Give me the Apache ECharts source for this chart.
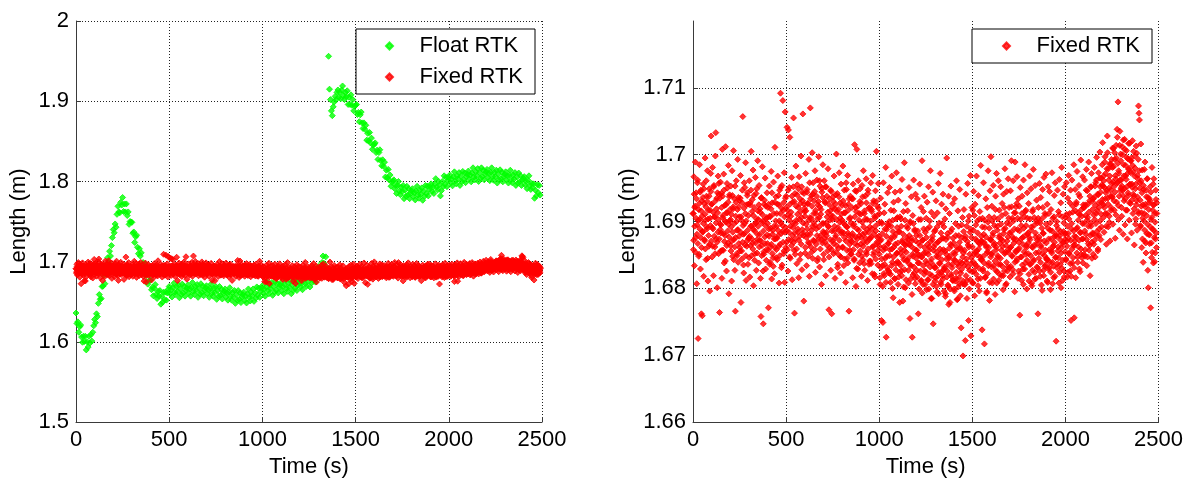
<!DOCTYPE html>
<html>
<head>
<meta charset="utf-8">
<script src="https://cdn.jsdelivr.net/npm/echarts@6/dist/echarts.min.js"></script>
<style>
html,body{margin:0;padding:0;background:#fff;}
#chart{width:1186px;height:483px;}
</style>
</head>
<body>
<div id="chart"></div>
<script>
// ---- Data ----
const xTicks = [0, 500, 1000, 1500, 2000, 2500];
const leftYTicks = [1.5, 1.6, 1.7, 1.8, 1.9, 2];
const rightYTicks = [1.66, 1.67, 1.68, 1.69, 1.70, 1.71, 1.72];
const seriesNames = ['Float RTK', 'Fixed RTK'];

// Fixed RTK length (m): pass A sampled every 2.5 s from 0 s
const fixedStartA = 0, fixedStep = 2.5;
const fixedRTK_A = [
1.6912,1.6858,1.6967,1.6834,1.6921,1.6989,1.6876,1.6943,1.6807,1.6895,1.6962,1.6725,1.6918,1.6851,1.6985,1.6903,1.6829,1.6947,1.6762,1.6931,
1.6759,1.6884,1.6956,1.6818,1.6927,1.6871,1.6995,1.6902,1.6843,1.6938,1.6889,1.6976,1.6811,1.6917,1.6863,1.6949,1.6796,1.6905,1.6972,1.7028,
1.6926,1.6847,1.6981,1.6889,1.6819,1.6954,1.6907,1.6862,1.6998,1.7033,1.6874,1.6935,1.6801,1.6913,1.6968,1.6852,1.6941,1.6764,1.6896,1.6959,
1.6883,1.6942,1.6815,1.7008,1.6906,1.6857,1.6971,1.6838,1.6924,1.6879,1.7012,1.6899,1.6826,1.6957,1.6913,1.6868,1.6984,1.6792,1.6937,1.6901,
1.6864,1.6953,1.6892,1.6811,1.6976,1.6848,1.6919,1.7006,1.6873,1.6934,1.6827,1.6766,1.6908,1.6961,1.6852,1.6887,1.6993,1.6839,1.6922,1.6878,
1.6931,1.6856,1.6969,1.6779,1.6902,1.6844,1.6947,1.7057,1.6881,1.6823,1.6958,1.6897,1.6865,1.6988,1.6812,1.6925,1.6871,1.6943,1.6836,1.6909,
1.6875,1.6961,1.6817,1.6928,1.6893,1.7005,1.6849,1.6915,1.6868,1.6977,1.6804,1.6939,1.6886,1.6852,1.6966,1.6898,1.6827,1.6949,1.6873,1.6991,
1.6893,1.6838,1.6954,1.6872,1.6919,1.6815,1.6758,1.6936,1.6864,1.6982,1.6901,1.6747,1.6851,1.6926,1.6877,1.6965,1.6829,1.6904,1.6858,1.6943,
1.6867,1.6921,1.6771,1.6889,1.6953,1.6836,1.6907,1.6862,1.6975,1.6814,1.6928,1.6881,1.6846,1.6959,1.6893,1.6822,1.7011,1.6874,1.6937,1.6858,
1.6912,1.6843,1.6968,1.6879,1.6925,1.6808,1.6947,1.6866,1.7092,1.6898,1.6831,1.6954,1.6885,1.7081,1.6917,1.6852,1.6973,1.6809,1.7064,1.6891,
1.6938,1.6869,1.7041,1.6917,1.6826,1.7037,1.6884,1.6951,1.7026,1.6845,1.6908,1.6872,1.6966,1.6813,1.6929,1.6891,1.7055,1.6857,1.6763,1.6942,
1.6874,1.6983,1.6902,1.6837,1.6955,1.6889,1.6921,1.6816,1.6967,1.6878,1.6934,1.6851,1.6998,1.6906,1.6828,1.6944,1.7061,1.6883,1.6781,1.6926,
1.6915,1.6853,1.6972,1.6896,1.6834,1.6948,1.6881,1.6927,1.6869,1.6993,1.6818,1.6906,1.7070,1.6862,1.6939,1.6887,1.7003,1.6845,1.6958,1.6899,
1.6931,1.6858,1.6976,1.6824,1.6912,1.6889,1.6962,1.6841,1.6925,1.6873,1.6997,1.6906,1.6832,1.6953,1.6879,1.6918,1.6806,1.6944,1.6868,1.6985,
1.6897,1.6843,1.6961,1.6875,1.6928,1.6819,1.6952,1.6884,1.6907,1.6856,1.6979,1.6892,1.6768,1.6934,1.6861,1.6916,1.6827,1.6945,1.6762,1.6903,
1.6871,1.6937,1.6852,1.6968,1.6893,1.6815,1.6926,1.6879,1.7001,1.6864,1.6942,1.6836,1.6918,1.6887,1.6973,1.6849,1.6905,1.6823,1.6956,1.6882,
1.6924,1.6861,1.6983,1.6898,1.6834,1.6947,1.6876,1.6913,1.6809,1.6958,1.6892,1.6845,1.6969,1.6883,1.6926,1.6766,1.6904,1.6857,1.6938,1.6872,
1.6851,1.6934,1.6878,1.6816,1.6956,1.6893,1.6842,1.7015,1.6867,1.6921,1.6803,1.6945,1.7008,1.6874,1.6829,1.6961,1.6887,1.6912,1.6838,1.6949,
1.6866,1.6927,1.6818,1.6954,1.6881,1.6843,1.6976,1.6869,1.6912,1.6827,1.6938,1.6875,1.6964,1.6851,1.6903,1.6812,1.6947,1.6884,1.6836,1.6921,
1.6892,1.6841,1.6958,1.6877,1.6915,1.6822,1.6969,1.6863,1.6931,1.6854,1.6908,1.6817,1.6946,1.6886,1.7005,1.6869,1.6923,1.6835,1.6957,1.6878,
1.6851,1.6912,1.6806,1.6935,1.6873,1.6752,1.6897,1.6834,1.6749,1.6958,1.6862,1.6819,1.6926,1.6845,1.6981,1.6727,1.6888,1.6831,1.6943,1.6867,
1.6894,1.6823,1.6951,1.6858,1.6809,1.6917,1.6876,1.6968,1.6839,1.6902,1.6786,1.6929,1.6862,1.6815,1.6944,1.6881,1.6837,1.6973,1.6853,1.6906,
1.6868,1.6932,1.6817,1.6885,1.6779,1.6946,1.6859,1.6904,1.6826,1.6963,1.6872,1.6781,1.6915,1.6843,1.6988,1.6866,1.6801,1.6927,1.6854,1.6893,
1.6842,1.6916,1.6873,1.6808,1.6951,1.6865,1.6755,1.6898,1.6834,1.6937,1.6871,1.6727,1.6909,1.6848,1.6962,1.6823,1.6886,1.6815,1.6941,1.6857,
1.6879,1.6827,1.6934,1.6851,1.6762,1.6903,1.6838,1.6956,1.6864,1.6811,1.6921,1.6847,1.6991,1.6872,1.6806,1.6915,1.6853,1.6938,1.6826,1.6884,
1.6841,1.6905,1.6798,1.6929,1.6866,1.6813,1.6952,1.6857,1.6892,1.6821,1.6976,1.6839,1.6914,1.6785,1.6873,1.6944,1.6747,1.6862,1.6908,1.6831,
1.6887,1.6816,1.6931,1.6848,1.6795,1.6913,1.6869,1.6957,1.6824,1.6898,1.6837,1.6972,1.6853,1.6806,1.6926,1.6875,1.6819,1.6941,1.6858,1.6892,
1.6832,1.6904,1.6788,1.6919,1.6851,1.6995,1.6826,1.6877,1.6803,1.6938,1.6845,1.6912,1.6779,1.6866,1.6953,1.6818,1.6889,1.6836,1.6927,1.6812,
1.6868,1.6799,1.6934,1.6842,1.6897,1.6815,1.6961,1.6857,1.6784,1.6916,1.6833,1.6879,1.6807,1.6948,1.6861,1.6823,1.6741,1.6895,1.6838,1.6906,
1.6699,1.6853,1.6918,1.6806,1.6874,1.6722,1.6941,1.6839,1.6893,1.6812,1.6957,1.6865,1.6752,1.6908,1.6827,1.6884,1.6969,1.6729,1.6846,1.6921,
1.6862,1.6917,1.6808,1.6945,1.6851,1.6789,1.6926,1.6874,1.6833,1.6968,1.6856,1.6901,1.6814,1.6939,1.6868,1.6796,1.6915,1.6847,1.6984,1.6871,
1.6843,1.6738,1.6905,1.6826,1.6958,1.6869,1.6717,1.6891,1.6817,1.6934,1.6862,1.6795,1.6921,1.6855,1.6976,1.6838,1.6907,1.6782,1.6946,1.6873,
1.6997,1.6851,1.6923,1.6808,1.6879,1.6954,1.6834,1.6906,1.6867,1.6791,1.6938,1.6858,1.6972,1.6825,1.6893,1.6846,1.6961,1.6812,1.6917,1.6879,
1.6836,1.6952,1.6874,1.6819,1.6927,1.6863,1.6798,1.6941,1.6888,1.6826,1.6979,1.6854,1.6912,1.6807,1.6945,1.6871,1.6832,1.6964,1.6858,1.6921,
1.6883,1.6817,1.6946,1.6862,1.6991,1.6849,1.6905,1.6828,1.6961,1.6874,1.6913,1.6795,1.6989,1.6856,1.6922,1.6841,1.6967,1.6888,1.6815,1.6934,
1.6869,1.6923,1.6760,1.6951,1.6847,1.6894,1.6812,1.6938,1.6876,1.6829,1.6962,1.6855,1.6907,1.6985,1.6838,1.6917,1.6864,1.6799,1.6943,1.6881,
1.6852,1.6927,1.6811,1.6968,1.6873,1.6836,1.6949,1.6892,1.6804,1.6915,1.6861,1.6978,1.6843,1.6906,1.6824,1.6954,1.6877,1.6815,1.6932,1.6866,
1.6898,1.6762,1.6921,1.6845,1.6957,1.6872,1.6818,1.6936,1.6861,1.6904,1.6797,1.6948,1.6883,1.6827,1.6966,1.6849,1.6912,1.6835,1.6971,1.6868,
1.6843,1.6926,1.6809,1.6952,1.6874,1.6831,1.6945,1.6887,1.6798,1.6918,1.6856,1.6973,1.6839,1.6905,1.6864,1.6816,1.6939,1.6878,1.6958,1.6847,
1.6721,1.6894,1.6831,1.6947,1.6862,1.6915,1.6808,1.6963,1.6879,1.6836,1.6928,1.6853,1.6981,1.6867,1.6812,1.6941,1.6885,1.6826,1.6952,1.6873,
1.6906,1.6844,1.6958,1.6871,1.6817,1.6935,1.6882,1.6969,1.6853,1.6912,1.6826,1.6947,1.6752,1.6889,1.6962,1.6838,1.6923,1.6864,1.6985,1.6756,
1.6871,1.6948,1.6816,1.6926,1.6889,1.6975,1.6847,1.6913,1.6862,1.6954,1.6829,1.6937,1.6883,1.6992,1.6851,1.6908,1.6874,1.6967,1.6838,1.6921,
1.6897,1.6962,1.6848,1.6925,1.6881,1.6978,1.6834,1.6946,1.6906,1.6867,1.6989,1.6857,1.6931,1.6819,1.6952,1.6893,1.6972,1.6845,1.6918,1.6881,
1.6934,1.6866,1.6981,1.6903,1.6847,1.6958,1.6912,1.6996,1.6878,1.6941,1.6859,1.6973,1.6921,1.6889,1.7004,1.6952,1.6873,1.6965,1.6928,1.6985,
1.7018,1.6925,1.6968,1.6884,1.6951,1.6997,1.6912,1.6943,1.6866,1.6979,1.7028,1.6935,1.6892,1.6962,1.6908,1.6986,1.6871,1.6947,1.6921,1.6993,
1.6938,1.6981,1.6896,1.7009,1.6952,1.6917,1.6993,1.6875,1.6964,1.7014,1.6929,1.7038,1.6958,1.7079,1.6903,1.6972,1.6887,1.7035,1.6946,1.6991,
1.6962,1.6908,1.7012,1.6947,1.6881,1.6985,1.6931,1.7023,1.6895,1.6968,1.6917,1.7006,1.6952,1.6874,1.6994,1.6939,1.6978,1.6902,1.7017,1.6955,
1.6927,1.6991,1.6883,1.6956,1.7021,1.6912,1.6974,1.6938,1.6865,1.6998,1.6949,1.6904,1.7013,1.6931,1.6887,1.6969,1.6915,1.7073,1.7062,1.7052,
1.6958,1.6894,1.7016,1.6923,1.6861,1.6977,1.6905,1.6839,1.6948,1.6912,1.6871,1.6989,1.6926,1.6853,1.6937,1.6882,1.6964,1.6827,1.6801,1.6918,
1.6934,1.6867,1.6952,1.6771,1.6903,1.6846,1.6981,1.6889,1.6925,1.6838,1.6964,1.6876,1.6912,1.6853,1.6947,1.6883,1.6928
];

// Fixed RTK length (m): pass B sampled every 2.5 s from 1.25 s
const fixedStartB = 1.25;
const fixedRTK_B = [
1.6912,1.6872,1.6941,1.6893,1.6923,1.6854,1.6905,1.6934,1.6881,1.6958,1.6867,1.6902,1.6848,1.6927,1.6889,1.6944,1.6876,1.6916,1.6861,1.6908,
1.6885,1.6936,1.6897,1.6949,1.6873,1.6911,1.6859,1.6922,1.6961,1.6892,1.6930,1.6845,1.6904,1.6879,1.6938,1.6866,1.6917,1.6894,1.6945,1.6871,
1.6926,1.6891,1.6863,1.6914,1.6952,1.6878,1.6907,1.6852,1.6931,1.6898,1.6919,1.6869,1.6943,1.6884,1.6903,1.6957,1.6874,1.6935,1.6888,1.6856,
1.6895,1.6921,1.6857,1.6938,1.6909,1.6882,1.6947,1.6870,1.6901,1.6841,1.6925,1.6913,1.6864,1.6950,1.6886,1.6929,1.6896,1.6877,1.6940,1.6918,
1.6903,1.6856,1.6911,1.6871,1.6939,1.6884,1.6922,1.6843,1.6897,1.6862,1.6953,1.6876,1.6929,1.6900,1.6849,1.6918,1.6888,1.6936,1.6867,1.6907,
1.6861,1.6935,1.6884,1.6907,1.6856,1.6928,1.6869,1.6894,1.6835,1.6920,1.6882,1.6951,1.6912,1.6849,1.6901,1.6863,1.6939,1.6887,1.6926,1.6875,
1.6846,1.6878,1.6925,1.6864,1.6947,1.6893,1.6874,1.6933,1.6859,1.6909,1.6888,1.6921,1.6842,1.6897,1.6868,1.6942,1.6904,1.6853,1.6881,1.6916,
1.6903,1.6925,1.6862,1.6881,1.6914,1.6871,1.6935,1.6849,1.6898,1.6910,1.6826,1.6886,1.6855,1.6932,1.6867,1.6894,1.6923,1.6842,1.6906,1.6880,
1.6897,1.6857,1.6926,1.6878,1.6908,1.6839,1.6890,1.6919,1.6866,1.6943,1.6852,1.6887,1.6833,1.6912,1.6874,1.6929,1.6861,1.6901,1.6846,1.6893,
1.6875,1.6926,1.6887,1.6939,1.6863,1.6901,1.6849,1.6912,1.6951,1.6882,1.6920,1.6835,1.6894,1.6869,1.6928,1.6856,1.6907,1.6884,1.6935,1.6861,
1.6921,1.6886,1.6858,1.6909,1.6947,1.6873,1.6902,1.6847,1.6926,1.6893,1.6914,1.6864,1.6938,1.6879,1.6898,1.6952,1.6869,1.6930,1.6883,1.6851,
1.6897,1.6923,1.6859,1.6940,1.6911,1.6884,1.6949,1.6872,1.6903,1.6843,1.6927,1.6915,1.6866,1.6952,1.6888,1.6931,1.6898,1.6879,1.6942,1.6920,
1.6908,1.6861,1.6916,1.6876,1.6944,1.6889,1.6927,1.6848,1.6902,1.6867,1.6958,1.6881,1.6934,1.6905,1.6854,1.6923,1.6893,1.6941,1.6872,1.6912,
1.6871,1.6945,1.6894,1.6917,1.6866,1.6938,1.6879,1.6904,1.6845,1.6930,1.6892,1.6961,1.6922,1.6859,1.6911,1.6873,1.6949,1.6897,1.6936,1.6885,
1.6851,1.6883,1.6930,1.6869,1.6952,1.6898,1.6879,1.6938,1.6864,1.6914,1.6893,1.6926,1.6847,1.6902,1.6873,1.6947,1.6909,1.6858,1.6886,1.6921,
1.6908,1.6930,1.6867,1.6886,1.6919,1.6876,1.6940,1.6854,1.6903,1.6915,1.6831,1.6891,1.6860,1.6937,1.6872,1.6899,1.6928,1.6847,1.6911,1.6885,
1.6902,1.6862,1.6931,1.6883,1.6913,1.6844,1.6895,1.6924,1.6871,1.6948,1.6857,1.6892,1.6838,1.6917,1.6879,1.6934,1.6866,1.6906,1.6851,1.6898,
1.6870,1.6921,1.6882,1.6934,1.6858,1.6896,1.6844,1.6907,1.6946,1.6877,1.6915,1.6830,1.6889,1.6864,1.6923,1.6851,1.6902,1.6879,1.6930,1.6856,
1.6911,1.6876,1.6848,1.6899,1.6937,1.6863,1.6892,1.6837,1.6916,1.6883,1.6904,1.6854,1.6928,1.6869,1.6888,1.6942,1.6859,1.6920,1.6873,1.6841,
1.6875,1.6901,1.6837,1.6918,1.6889,1.6862,1.6927,1.6850,1.6881,1.6821,1.6905,1.6893,1.6844,1.6930,1.6866,1.6909,1.6876,1.6857,1.6920,1.6898,
1.6863,1.6816,1.6871,1.6831,1.6899,1.6844,1.6882,1.6803,1.6857,1.6822,1.6913,1.6836,1.6889,1.6860,1.6809,1.6878,1.6848,1.6896,1.6827,1.6867,
1.6826,1.6900,1.6849,1.6872,1.6821,1.6893,1.6834,1.6859,1.6800,1.6885,1.6847,1.6916,1.6877,1.6814,1.6866,1.6828,1.6904,1.6852,1.6891,1.6840,
1.6806,1.6838,1.6885,1.6824,1.6907,1.6853,1.6834,1.6893,1.6819,1.6869,1.6848,1.6881,1.6802,1.6857,1.6828,1.6902,1.6864,1.6813,1.6841,1.6876,
1.6868,1.6890,1.6827,1.6846,1.6879,1.6836,1.6900,1.6814,1.6863,1.6875,1.6791,1.6851,1.6820,1.6897,1.6832,1.6859,1.6888,1.6807,1.6871,1.6845,
1.6857,1.6817,1.6886,1.6838,1.6868,1.6799,1.6850,1.6879,1.6826,1.6903,1.6812,1.6847,1.6793,1.6872,1.6834,1.6889,1.6821,1.6861,1.6806,1.6853,
1.6825,1.6876,1.6837,1.6889,1.6813,1.6851,1.6799,1.6862,1.6901,1.6832,1.6870,1.6785,1.6844,1.6819,1.6878,1.6806,1.6857,1.6834,1.6885,1.6811,
1.6866,1.6831,1.6803,1.6854,1.6892,1.6818,1.6847,1.6792,1.6871,1.6838,1.6859,1.6809,1.6883,1.6824,1.6843,1.6897,1.6814,1.6875,1.6828,1.6796,
1.6830,1.6856,1.6792,1.6873,1.6844,1.6817,1.6882,1.6805,1.6836,1.6776,1.6860,1.6848,1.6799,1.6885,1.6821,1.6864,1.6831,1.6812,1.6875,1.6853,
1.6843,1.6796,1.6851,1.6811,1.6879,1.6824,1.6862,1.6783,1.6837,1.6802,1.6893,1.6816,1.6869,1.6840,1.6789,1.6858,1.6828,1.6876,1.6807,1.6847,
1.6811,1.6885,1.6834,1.6857,1.6806,1.6878,1.6819,1.6844,1.6785,1.6870,1.6832,1.6901,1.6862,1.6799,1.6851,1.6813,1.6889,1.6837,1.6876,1.6825,
1.6808,1.6840,1.6887,1.6826,1.6909,1.6855,1.6836,1.6895,1.6821,1.6871,1.6850,1.6883,1.6804,1.6859,1.6830,1.6904,1.6866,1.6815,1.6843,1.6878,
1.6870,1.6892,1.6829,1.6848,1.6881,1.6838,1.6902,1.6816,1.6865,1.6877,1.6793,1.6853,1.6822,1.6899,1.6834,1.6861,1.6890,1.6809,1.6873,1.6847,
1.6872,1.6832,1.6901,1.6853,1.6883,1.6814,1.6865,1.6894,1.6841,1.6918,1.6827,1.6862,1.6808,1.6887,1.6849,1.6904,1.6836,1.6876,1.6821,1.6868,
1.6845,1.6896,1.6857,1.6909,1.6833,1.6871,1.6819,1.6882,1.6921,1.6852,1.6890,1.6805,1.6864,1.6839,1.6898,1.6826,1.6877,1.6854,1.6905,1.6831,
1.6896,1.6861,1.6833,1.6884,1.6922,1.6848,1.6877,1.6822,1.6901,1.6868,1.6889,1.6839,1.6913,1.6854,1.6873,1.6927,1.6844,1.6905,1.6858,1.6826,
1.6860,1.6886,1.6822,1.6903,1.6874,1.6847,1.6912,1.6835,1.6866,1.6806,1.6890,1.6878,1.6829,1.6915,1.6851,1.6894,1.6861,1.6842,1.6905,1.6883,
1.6868,1.6821,1.6876,1.6836,1.6904,1.6849,1.6887,1.6808,1.6862,1.6827,1.6918,1.6841,1.6894,1.6865,1.6814,1.6883,1.6853,1.6901,1.6832,1.6872,
1.6831,1.6905,1.6854,1.6877,1.6826,1.6898,1.6839,1.6864,1.6805,1.6890,1.6852,1.6921,1.6882,1.6819,1.6871,1.6833,1.6909,1.6857,1.6896,1.6845,
1.6811,1.6843,1.6890,1.6829,1.6912,1.6858,1.6839,1.6898,1.6824,1.6874,1.6853,1.6886,1.6807,1.6862,1.6833,1.6907,1.6869,1.6818,1.6846,1.6881,
1.6878,1.6900,1.6837,1.6856,1.6889,1.6846,1.6910,1.6824,1.6873,1.6885,1.6801,1.6861,1.6830,1.6907,1.6842,1.6869,1.6898,1.6817,1.6881,1.6855,
1.6882,1.6842,1.6911,1.6863,1.6893,1.6824,1.6875,1.6904,1.6851,1.6928,1.6837,1.6872,1.6818,1.6897,1.6859,1.6914,1.6846,1.6886,1.6831,1.6878,
1.6865,1.6916,1.6877,1.6929,1.6853,1.6891,1.6839,1.6902,1.6941,1.6872,1.6910,1.6825,1.6884,1.6859,1.6918,1.6846,1.6897,1.6874,1.6925,1.6851,
1.6921,1.6886,1.6858,1.6909,1.6947,1.6873,1.6902,1.6847,1.6926,1.6893,1.6914,1.6864,1.6938,1.6879,1.6898,1.6952,1.6869,1.6930,1.6883,1.6851,
1.6910,1.6936,1.6872,1.6953,1.6924,1.6897,1.6962,1.6885,1.6916,1.6856,1.6940,1.6928,1.6879,1.6965,1.6901,1.6944,1.6911,1.6892,1.6955,1.6933,
1.6953,1.6906,1.6961,1.6921,1.6989,1.6934,1.6972,1.6893,1.6947,1.6912,1.7003,1.6926,1.6979,1.6950,1.6899,1.6968,1.6938,1.6986,1.6917,1.6957,
1.6936,1.7010,1.6959,1.6982,1.6931,1.7003,1.6944,1.6969,1.6910,1.6995,1.6957,1.7026,1.6987,1.6924,1.6976,1.6938,1.7014,1.6962,1.7001,1.6950,
1.6921,1.6953,1.7000,1.6939,1.7022,1.6968,1.6949,1.7008,1.6934,1.6984,1.6963,1.6996,1.6917,1.6972,1.6943,1.7017,1.6979,1.6928,1.6956,1.6991,
1.6973,1.6995,1.6932,1.6951,1.6984,1.6941,1.7005,1.6919,1.6968,1.6980,1.6896,1.6956,1.6925,1.7002,1.6937,1.6964,1.6993,1.6912,1.6976,1.6950,
1.6932,1.6892,1.6961,1.6913,1.6943,1.6874,1.6925,1.6954,1.6901,1.6978,1.6887,1.6922,1.6868,1.6947,1.6909,1.6964,1.6896,1.6936,1.6881,1.6928,
1.6880,1.6931,1.6892,1.6944,1.6868,1.6906,1.6854,1.6917,1.6956,1.6887,1.6925,1.6840,1.6899,1.6874,1.6933,1.6861,1.6912
];

// Float RTK length (m), first stretch: every 5 s from 0 s to 1340 s
const floatStart1 = 0, floatStep = 5;
const floatRTK1 = [
1.636,1.623,1.625,1.612,1.619,1.621,1.606,1.5995,1.607,1.6005,
1.607,1.590,1.600,1.5935,1.607,1.5985,1.609,1.601,1.612,1.620,
1.628,1.624,1.635,1.6315,1.648,1.659,1.653,1.654,1.669,1.6695,
1.683,1.6725,1.689,1.687,1.705,1.6995,1.713,1.707,1.720,1.730,
1.740,1.736,1.747,1.743,1.759,1.769,1.762,1.761,1.774,1.7705,
1.780,1.7625,1.772,1.762,1.772,1.7575,1.762,1.7465,1.750,1.7495,
1.749,1.7355,1.737,1.724,1.731,1.733,1.718,1.710,1.716,1.707,
1.711,1.6915,1.699,1.688,1.697,1.6825,1.687,1.672,1.676,1.6765,
1.677,1.665,1.668,1.6575,1.667,1.6715,1.659,1.654,1.663,1.657,
1.664,1.647,1.657,1.6495,1.662,1.6525,1.662,1.652,1.661,1.6655,
1.669,1.660,1.665,1.656,1.668,1.673,1.662,1.659,1.669,1.663,
1.671,1.655,1.666,1.659,1.672,1.661,1.669,1.657,1.664,1.667,
1.671,1.661,1.666,1.657,1.668,1.674,1.663,1.659,1.669,1.664,
1.6715,1.6555,1.6665,1.6595,1.6725,1.6615,1.6695,1.6575,1.6645,1.6675,
1.670,1.660,1.665,1.6555,1.6665,1.672,1.661,1.657,1.667,1.6615,
1.669,1.653,1.664,1.657,1.669,1.658,1.6655,1.6535,1.6605,1.663,
1.666,1.656,1.661,1.652,1.662,1.6675,1.6565,1.652,1.6615,1.656,
1.664,1.648,1.659,1.652,1.664,1.653,1.661,1.649,1.656,1.659,
1.662,1.652,1.657,1.6485,1.660,1.666,1.6555,1.651,1.662,1.657,
1.666,1.6505,1.661,1.6545,1.6685,1.6585,1.667,1.6555,1.663,1.667,
1.670,1.6605,1.6655,1.657,1.6685,1.675,1.664,1.660,1.671,1.666,
1.674,1.658,1.669,1.662,1.675,1.6645,1.6725,1.661,1.668,1.671,
1.674,1.664,1.669,1.660,1.6715,1.6775,1.6665,1.663,1.673,1.668,
1.676,1.660,1.671,1.664,1.677,1.667,1.6755,1.664,1.671,1.674,
1.678,1.6685,1.673,1.665,1.677,1.6835,1.6725,1.669,1.6795,1.675,
1.684,1.6685,1.6795,1.6735,1.687,1.6765,1.685,1.6745,1.683,1.6865,
1.694,1.686,1.693,1.686,1.699,1.707,1.698,1.695,1.706
];

// Float RTK length (m), second stretch: every 5 s from 1355 s to 2490 s
const floatStart2 = 1355;
const floatRTK2 = [
1.956,1.915,1.902,1.888,1.882,1.893,1.899,1.906,1.902,1.911,
1.914,1.905,1.911,1.903,1.914,1.919,1.907,1.902,1.911,1.9055,
1.913,1.896,1.905,1.896,1.908,1.895,1.902,1.888,1.894,1.895,
1.896,1.8835,1.886,1.8745,1.883,1.8865,1.873,1.866,1.873,1.865,
1.870,1.8515,1.860,1.8505,1.861,1.848,1.854,1.840,1.845,1.8465,
1.848,1.836,1.839,1.8275,1.836,1.8395,1.826,1.8195,1.827,1.819,
1.824,1.8055,1.814,1.8045,1.815,1.802,1.808,1.794,1.799,1.8005,
1.802,1.791,1.795,1.785,1.795,1.800,1.788,1.7835,1.793,1.7875,
1.795,1.7785,1.789,1.7815,1.794,1.783,1.791,1.7785,1.785,1.788,
1.791,1.781,1.786,1.777,1.788,1.794,1.783,1.779,1.789,1.784,
1.792,1.7765,1.788,1.7815,1.795,1.785,1.794,1.782,1.790,1.7935,
1.797,1.7875,1.793,1.785,1.797,1.8035,1.793,1.7895,1.800,1.7955,
1.782,1.7885,1.800,1.7935,1.807,1.7965,1.805,1.7935,1.801,1.8045,
1.808,1.798,1.803,1.7945,1.806,1.812,1.8005,1.797,1.807,1.803,
1.811,1.795,1.8065,1.7995,1.8125,1.802,1.8105,1.7985,1.806,1.809,
1.813,1.803,1.808,1.7995,1.8105,1.817,1.8055,1.802,1.812,1.807,
1.816,1.800,1.811,1.804,1.817,1.806,1.814,1.802,1.809,1.812,
1.815,1.805,1.810,1.801,1.8115,1.817,1.806,1.8015,1.8115,1.806,
1.814,1.798,1.809,1.802,1.8145,1.8035,1.8115,1.7995,1.806,1.809,
1.812,1.802,1.807,1.798,1.808,1.814,1.8025,1.7985,1.808,1.803,
1.811,1.795,1.8055,1.798,1.8105,1.7995,1.807,1.795,1.8015,1.804,
1.806,1.7955,1.800,1.791,1.8015,1.807,1.795,1.790,1.7975,1.792,
1.797,1.779,1.789,1.782,1.796,1.786,1.795,1.783
];

// ---- Build series data ----
function pairs(start, step, vals) { return vals.map((v, i) => [start + i * step, v]); }
const fixedData = pairs(fixedStartA, fixedStep, fixedRTK_A).concat(pairs(fixedStartB, fixedStep, fixedRTK_B));
const floatData = pairs(floatStart1, floatStep, floatRTK1).concat(pairs(floatStart2, floatStep, floatRTK2));

const FONT = 'Liberation Sans, Arial, Helvetica, sans-serif';
const GREEN = '#00ff00', RED = '#ff0000';
const DIAMOND = 'path://M0,-1L1,0L0,1L-1,0Z';
const gridLine = { show: true, lineStyle: { color: '#222', type: [1, 2], width: 1 } };
const axisLine = { show: true, lineStyle: { color: '#3a3a3a', width: 1 } };
const label = { fontSize: 22, color: '#000', fontFamily: FONT };
const fmt = v => String(+(+v).toFixed(4));

function xAxis(grid) {
  return {
    type: 'value', gridIndex: grid, min: xTicks[0], max: xTicks[xTicks.length - 1],
    interval: xTicks[1] - xTicks[0],
    name: 'Time (s)', nameLocation: 'middle', nameGap: 28,
    nameTextStyle: { fontSize: 22, color: '#000', fontFamily: FONT },
    axisLine: axisLine, axisTick: { show: true, inside: true, length: 5, lineStyle: { color: '#3a3a3a' } },
    axisLabel: Object.assign({ margin: 7, formatter: fmt }, label),
    splitLine: gridLine
  };
}
function yAxis(grid, ticks, gap, hideMax) {
  return {
    type: 'value', gridIndex: grid, min: ticks[0], max: ticks[ticks.length - 1],
    interval: +(ticks[1] - ticks[0]).toFixed(4),
    name: 'Length (m)', nameLocation: 'middle', nameGap: gap,
    nameTextStyle: { fontSize: 22, color: '#000', fontFamily: FONT },
    axisLine: axisLine, axisTick: { show: true, inside: true, length: 5, lineStyle: { color: '#3a3a3a' } },
    axisLabel: Object.assign({ margin: 7, showMaxLabel: !hideMax, formatter: fmt }, label),
    splitLine: Object.assign({ showMaxLine: !hideMax }, gridLine)
  };
}
function marks(color) {
  return { color: color, borderColor: color, borderWidth: 1 };
}

const chart = echarts.init(document.getElementById('chart'), null, { renderer: 'canvas' });
chart.setOption({
  animation: false,
  backgroundColor: '#fff',
  grid: [
    { left: 76, top: 21, width: 466, height: 407 },
    { left: 693, top: 21, width: 466, height: 407 }
  ],
  xAxis: [xAxis(0), xAxis(1)],
  yAxis: [yAxis(0, leftYTicks, 46, false), yAxis(1, rightYTicks, 52, true)],
  legend: [
    {
      data: seriesNames, orient: 'vertical', left: 356, top: 29,
      padding: [6, 12, 6, 29], itemGap: 9, itemWidth: 50, itemHeight: 7,
      icon: DIAMOND, backgroundColor: '#fff', borderColor: '#000', borderWidth: 1,
      textStyle: { fontSize: 22, color: '#000', fontFamily: FONT }, selectedMode: false
    },
    {
      data: [seriesNames[1]], orient: 'vertical', left: 972, top: 29,
      padding: [6, 12, 6, 30], itemWidth: 50, itemHeight: 7,
      icon: DIAMOND, backgroundColor: '#fff', borderColor: '#000', borderWidth: 1,
      textStyle: { fontSize: 22, color: '#000', fontFamily: FONT }, selectedMode: false
    }
  ],
  series: [
    { name: seriesNames[0], type: 'scatter', xAxisIndex: 0, yAxisIndex: 0, data: floatData,
      symbol: 'diamond', symbolSize: 6, itemStyle: marks(GREEN), z: 2 },
    { name: seriesNames[1], type: 'scatter', xAxisIndex: 0, yAxisIndex: 0, data: fixedData,
      symbol: 'diamond', symbolSize: 6, itemStyle: marks(RED), z: 3 },
    { name: seriesNames[1], type: 'scatter', xAxisIndex: 1, yAxisIndex: 1, data: fixedData,
      symbol: 'diamond', symbolSize: 6, itemStyle: marks(RED), z: 3 }
  ]
});
</script>
</body>
</html>
